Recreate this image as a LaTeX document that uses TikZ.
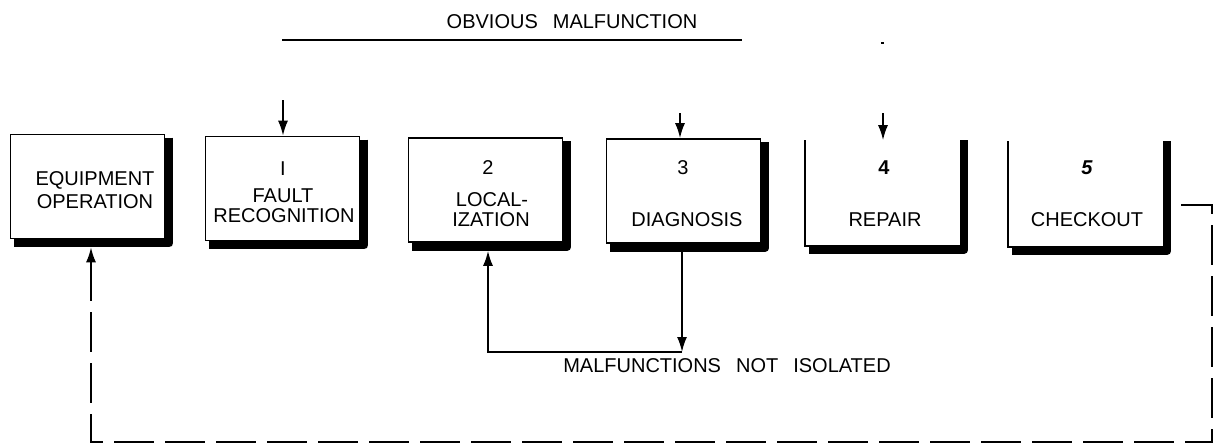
\documentclass[tikz,border=0pt]{standalone}
\usepackage{fontspec}
\setmainfont{Liberation Sans}
\usetikzlibrary{arrows.meta}
\newcommand\wgap{\hspace{15pt}}
\begin{document}
\begin{tikzpicture}[x=1pt,y=-1pt,
  stagebox/.style={minimum width=154pt,minimum height=104pt,inner sep=0pt,line width=1.6pt},
  shadowbar/.style={line width=8pt,line join=round},
  lbl/.style={anchor=base,inner sep=0pt,font=\fontsize{20}{22}\selectfont},
  flow/.style={line width=1.8pt},
  tip/.style={-{Latex[length=15pt,width=10pt]}},
  arr/.style={flow,tip},
  feedback/.style={line width=1.8pt,dash pattern=on 40pt off 11pt}]
\useasboundingbox (0,0) rectangle (1214,447);

% stage boxes
\node[stagebox,draw] (b0) at (87.5,186.5) {};
\node[stagebox,draw] (b1) at (282.5,188.5) {};
\node[stagebox,draw] (b2) at (485.5,190) {};
\node[stagebox,draw] (b3) at (683.5,191) {};
\node[stagebox] (b4) at (882.5,193) {};
\node[stagebox] (b5) at (1085.5,194) {};
\draw[line width=1.6pt] (b4.north west) -- (b4.south west) -- (b4.south east) -- (b4.north east);
\draw[line width=1.6pt] (b5.north west) -- (b5.south west) -- (b5.south east) -- (b5.north east);

% heavy shadow on the right and bottom edges
\foreach \b in {b0,b1,b2,b3}
  \draw[shadowbar] ([xshift=4pt,yshift=-4pt]\b.north east) -- ([xshift=4pt,yshift=-4pt]\b.south east) -- ([xshift=4pt,yshift=-4pt]\b.south west);
\foreach \b in {b4,b5}
  \draw[shadowbar] ([xshift=4pt]\b.north east) -- ([xshift=4pt,yshift=-4pt]\b.south east) -- ([xshift=4pt,yshift=-4pt]\b.south west);

% box texts
\node[lbl] (t0a) at (95,185) {EQUIPMENT};
\node[lbl] (t0b) at (95,208) {OPERATION};
\node[lbl] (n1) at (283,175) {I};
\node[lbl] (t1a) at (283,202) {FAULT};
\node[lbl] (t1b) at (284,222) {RECOGNITION};
\node[lbl] (n2) at (488,174) {2};
\node[lbl] (t2a) at (492,206) {LOCAL-};
\node[lbl] (t2b) at (491,226) {IZATION};
\node[lbl] (n3) at (683,174) {3};
\node[lbl] (t3) at (687,226) {DIAGNOSIS};
\node[lbl] (n4) at (884,174) {\bfseries 4};
\node[lbl] (t4) at (885,226) {REPAIR};
\node[lbl] (n5) at (1087,174) {\bfseries\itshape 5};
\node[lbl] (t5) at (1087,226) {CHECKOUT};

% obvious malfunction path
\node[lbl] (om) at (572,28) {OBVIOUS\wgap MALFUNCTION};
\coordinate (omL) at (282,40);
\coordinate (omR) at (742,40);
\draw[flow] (omL) -- (omR);
\coordinate (omD) at (881,43);
\draw[line width=2.5pt] (omD) -- ++(3,0);
\coordinate (a1) at (283,100);
\coordinate (a3) at (680,113);
\coordinate (a4) at (883,113);
\draw[arr] (a1) -- (a1 |- b1.north);
\draw[arr] (a3) -- (a3 |- b3.north);
\draw[arr] (a4) -- (a4 |- b4.north);

% malfunctions not isolated loop
\coordinate (c3) at (682,352);
\coordinate (c2) at (488,352);
\draw[arr] ([yshift=-8pt]b3.south -| c3) -- (c3);
\draw[arr] (c3) -- (c2) -- ([yshift=-8pt]b2.south -| c2);
\node[lbl] (mni) at (727,372) {MALFUNCTIONS\wgap NOT\wgap ISOLATED};

% dashed return from checkout to equipment operation
\coordinate (r1) at (1212,205);
\coordinate (r2) at (1212,442);
\coordinate (r3) at (91,442);
\draw[feedback,{Latex[length=15pt,width=10pt]}-] ([yshift=-8pt]b0.south -| r3) -- (r3) -- (r2) -- (r1) -- ([xshift=8pt]b5.east |- r1);
\end{tikzpicture}
\end{document}
